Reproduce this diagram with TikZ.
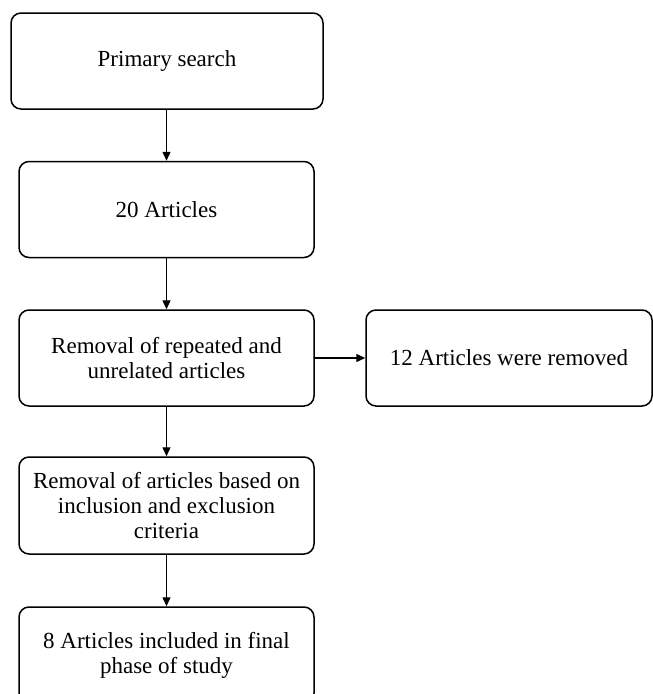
\documentclass[tikz,border=0pt]{standalone}
\usepackage{fontspec}
\setmainfont{Liberation Serif}
\usetikzlibrary{arrows.meta}

\begin{document}
\begin{tikzpicture}[x=1pt, y=-1pt,
    every node/.style={font=\fontsize{23}{25}\selectfont},
    stage/.style={draw, line width=1.5pt, rounded corners=10pt, align=center,
        inner sep=0pt, minimum width=295pt, minimum height=96pt},
    flow/.style={-{Triangle[width=8pt,length=9pt]}, line width=1.4pt}]

    % Page frame
    \path[use as bounding box] (0,0) rectangle (653,694);
    \clip (0,0) rectangle (653,694);

    % Main column
    \node[stage, minimum width=312pt] (search) at (167,61) {Primary search};
    \node[stage] (articles) at (166.5,209.5) {20 Articles};
    \node[stage] (repeated) at (166.5,358) {Removal of repeated and\\unrelated articles};
    \node[stage, minimum height=97pt] (criteria) at (166.5,505.5)
        {Removal of articles based on\\inclusion and exclusion\\criteria};
    \node[stage] (final) at (166.5,655) {8 Articles included in final\\phase of study};

    % Side box
    \node[stage, minimum width=286pt] (removed) at (509,358) {12 Articles were removed};

    % Arrows
    \draw[flow] (search.south -| articles.south) -- (articles.north);
    \draw[flow] (articles.south) -- (repeated.north);
    \draw[flow] (repeated.south) -- (criteria.north);
    \draw[flow] (criteria.south) -- (final.north);
    \draw[flow] (repeated.east) -- (removed.west);

\end{tikzpicture}
\end{document}
